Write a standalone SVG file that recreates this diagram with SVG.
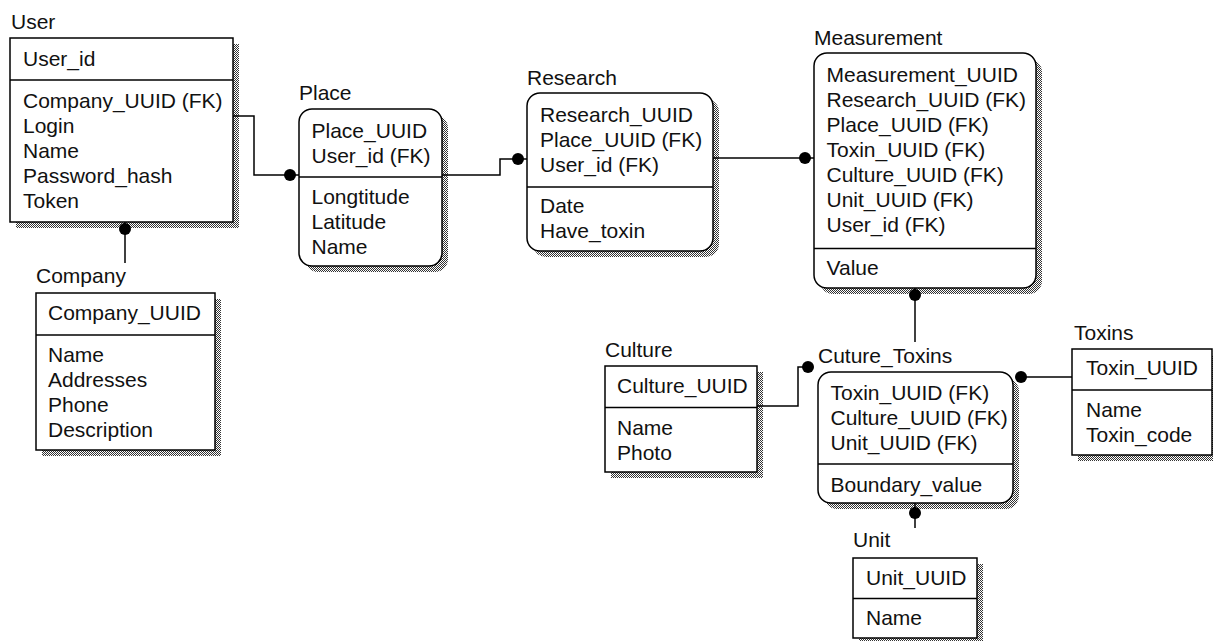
<svg xmlns="http://www.w3.org/2000/svg" width="1213" height="641" viewBox="0 0 1213 641">
<defs>
<pattern id="dither" width="2" height="2" patternUnits="userSpaceOnUse">
<rect width="2" height="2" fill="#fff"/>
<rect x="0" y="0" width="1" height="1" fill="#333"/>
<rect x="1" y="1" width="1" height="1" fill="#333"/>
</pattern>
<style>
text{font-family:"Liberation Sans",Arial,sans-serif;font-size:21px;fill:#111}
.shadow{fill:url(#dither);stroke:none}
.box{fill:#fff;stroke:#000;stroke-width:1.5}
.div{stroke:#000;stroke-width:1.5}
.conn{fill:none;stroke:#000;stroke-width:1.5}
.dot{fill:#000}
</style>
</defs>
<rect width="1213" height="641" fill="#fff"/>

<g id="User">
<rect class="shadow" x="16" y="44" width="223" height="184"/>
<rect class="box" x="10" y="38" width="223" height="184"/>
<line class="div" x1="10" y1="80" x2="233" y2="80"/>
<text x="11" y="29">User</text>
<text x="23" y="66">User_id</text>
<text x="23" y="107.5">Company_UUID (FK)</text>
<text x="23" y="132.5">Login</text>
<text x="23" y="157.5">Name</text>
<text x="23" y="182.5">Password_hash</text>
<text x="23" y="207.5">Token</text>
</g>

<g id="Company">
<rect class="shadow" x="42" y="299" width="179" height="157"/>
<rect class="box" x="36" y="293" width="179" height="157"/>
<line class="div" x1="36" y1="335" x2="215" y2="335"/>
<text x="36" y="283">Company</text>
<text x="48" y="320">Company_UUID</text>
<text x="48" y="361.5">Name</text>
<text x="48" y="386.5">Addresses</text>
<text x="48" y="411.5">Phone</text>
<text x="48" y="436.5">Description</text>
</g>

<g id="Place">
<rect class="shadow" x="305" y="115" width="143" height="157" rx="13"/>
<rect class="box" x="299" y="109" width="143" height="157" rx="13"/>
<line class="div" x1="299" y1="177" x2="442" y2="177"/>
<text x="299" y="100">Place</text>
<text x="311.5" y="138">Place_UUID</text>
<text x="311.5" y="163">User_id (FK)</text>
<text x="311.5" y="203.5">Longtitude</text>
<text x="311.5" y="228.5">Latitude</text>
<text x="311.5" y="253.5">Name</text>
</g>

<g id="Research">
<rect class="shadow" x="533" y="99" width="186" height="158" rx="13"/>
<rect class="box" x="527" y="93" width="186" height="158" rx="13"/>
<line class="div" x1="527" y1="187" x2="713" y2="187"/>
<text x="527" y="85">Research</text>
<text x="540" y="121.5">Research_UUID</text>
<text x="540" y="146.5">Place_UUID (FK)</text>
<text x="540" y="171.5">User_id (FK)</text>
<text x="540" y="213">Date</text>
<text x="540" y="238">Have_toxin</text>
</g>

<g id="Measurement">
<rect class="shadow" x="820" y="59" width="222" height="235" rx="13"/>
<rect class="box" x="814" y="53" width="222" height="235" rx="13"/>
<line class="div" x1="814" y1="248.5" x2="1036" y2="248.5"/>
<text x="814" y="45">Measurement</text>
<text x="826.5" y="81.5">Measurement_UUID</text>
<text x="826.5" y="106.5">Research_UUID (FK)</text>
<text x="826.5" y="131.5">Place_UUID (FK)</text>
<text x="826.5" y="156.5">Toxin_UUID (FK)</text>
<text x="826.5" y="181.5">Culture_UUID (FK)</text>
<text x="826.5" y="206.5">Unit_UUID (FK)</text>
<text x="826.5" y="231.5">User_id (FK)</text>
<text x="826.5" y="275">Value</text>
</g>

<g id="Culture">
<rect class="shadow" x="611" y="372" width="152" height="106"/>
<rect class="box" x="605" y="366" width="152" height="106"/>
<line class="div" x1="605" y1="407.5" x2="757" y2="407.5"/>
<text x="605" y="356.5">Culture</text>
<text x="617" y="393">Culture_UUID</text>
<text x="617" y="435">Name</text>
<text x="617" y="460">Photo</text>
</g>

<g id="Cuture_Toxins">
<rect class="shadow" x="824" y="378" width="195" height="131" rx="13"/>
<rect class="box" x="818" y="372" width="195" height="131" rx="13"/>
<line class="div" x1="818" y1="464" x2="1013" y2="464"/>
<text x="818" y="362.5">Cuture_Toxins</text>
<text x="830.5" y="400">Toxin_UUID (FK)</text>
<text x="830.5" y="425">Culture_UUID (FK)</text>
<text x="830.5" y="450">Unit_UUID (FK)</text>
<text x="830.5" y="491.5">Boundary_value</text>
</g>

<g id="Toxins">
<rect class="shadow" x="1078" y="355" width="140" height="106"/>
<rect class="box" x="1072" y="349" width="140" height="106"/>
<line class="div" x1="1072" y1="390" x2="1212" y2="390"/>
<text x="1074" y="340">Toxins</text>
<text x="1086" y="375">Toxin_UUID</text>
<text x="1086" y="416.5">Name</text>
<text x="1086" y="441.5">Toxin_code</text>
</g>

<g id="Unit">
<rect class="shadow" x="859" y="564" width="124" height="80"/>
<rect class="box" x="853" y="558" width="124" height="80"/>
<line class="div" x1="853" y1="598.5" x2="977" y2="598.5"/>
<text x="853" y="547">Unit</text>
<text x="866" y="585">Unit_UUID</text>
<text x="866" y="625">Name</text>
</g>

<g id="connectors">
<polyline class="conn" points="233,116 254,116 254,175 299,175"/>
<circle class="dot" cx="290" cy="175" r="6"/>
<polyline class="conn" points="125,222 125,263"/>
<circle class="dot" cx="125" cy="229" r="6"/>
<polyline class="conn" points="442,175 500,175 500,159 527,159"/>
<circle class="dot" cx="518" cy="159" r="6"/>
<polyline class="conn" points="713,158 814,158"/>
<circle class="dot" cx="805" cy="158" r="6"/>
<polyline class="conn" points="915,288 915,342"/>
<circle class="dot" cx="915" cy="295" r="6"/>
<polyline class="conn" points="757,406 798,406 798,367 808,367"/>
<circle class="dot" cx="808" cy="367" r="6"/>
<polyline class="conn" points="1021,377 1072,377"/>
<circle class="dot" cx="1021" cy="377" r="6"/>
<polyline class="conn" points="915,503 915,528"/>
<circle class="dot" cx="915" cy="513" r="6"/>
</g>
</svg>
